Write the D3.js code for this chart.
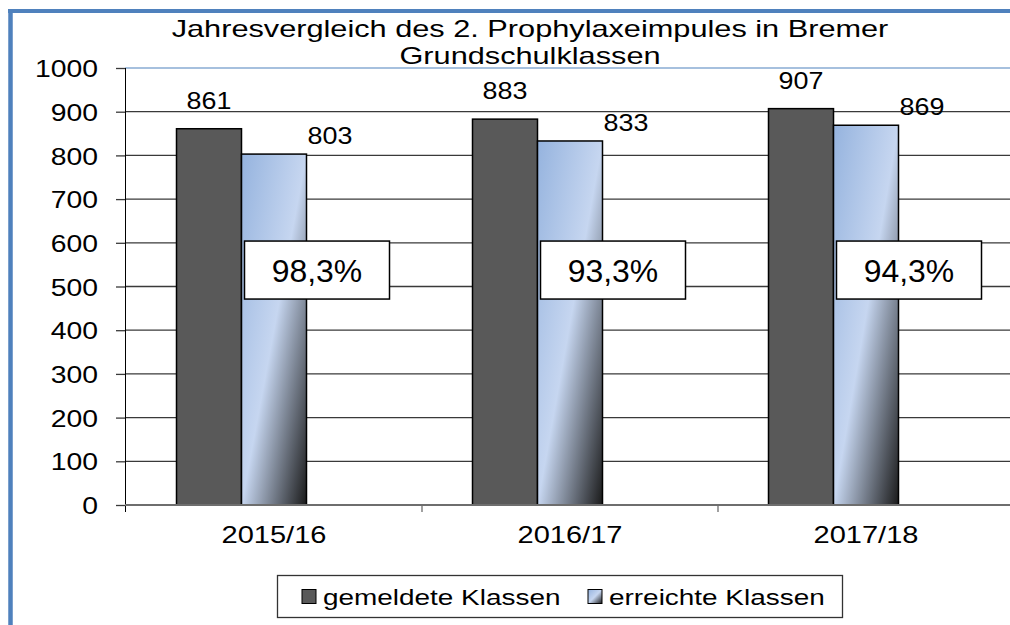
<!DOCTYPE html>
<html lang="de">
<head>
  <meta charset="UTF-8">
  <title>Jahresvergleich des 2. Prophylaxeimpules</title>
  <script src="https://d3js.org/d3.v7.min.js"></script>
  <style>
    body {
      margin: 0;
      overflow: hidden;
      background-color: #fff;
    }

    svg {
      display: block;
      font-family: "Liberation Sans", Arial, sans-serif;
    }

    .grid line {
      stroke: #3a3a3a;
      stroke-width: 1.3;
    }

    .bar {
      stroke: #000;
      stroke-width: 1.5;
    }
  </style>
</head>
<body>
  <svg id="chart"></svg>

  <script>
    // Daten
    const categories = ["2015/16", "2016/17", "2017/18"];
    const gemeldet = [861, 883, 907];
    const erreicht = [803, 833, 869];
    const quoten = ["98,3%", "93,3%", "94,3%"];
    const seriesNames = ["gemeldete Klassen", "erreichte Klassen"];
    const yTicks = [0, 100, 200, 300, 400, 500, 600, 700, 800, 900, 1000];

    const width = 1010;
    const height = 625;
    const blau = "#4f81bd";

    const svg = d3.select("#chart")
      .attr("width", width)
      .attr("height", height);

    // the screenshot is stretched sideways, so texts get a horizontal scale
    function label(parent, x, y, str, size, sx, anchor) {
      return parent.append("text")
        .attr("transform", `translate(${x},${y}) scale(${sx},1)`)
        .attr("text-anchor", anchor || "middle")
        .style("font-size", size + "px")
        .attr("fill", "#000")
        .text(str);
    }

    const defs = svg.append("defs");
    const grad = defs.append("linearGradient")
      .attr("id", "blauVerlauf")
      .attr("x1", 0).attr("y1", 0)
      .attr("x2", 1).attr("y2", 1);
    grad.append("stop").attr("offset", 0).attr("stop-color", "#95b3de");
    grad.append("stop").attr("offset", 0.5).attr("stop-color", "#c6d6f0");
    grad.append("stop").attr("offset", 1).attr("stop-color", "#1a1a1a");

    // Rahmen (blau, links und oben)
    svg.append("line")
      .attr("x1", 10.5).attr("y1", 9).attr("x2", 10.5).attr("y2", height)
      .attr("stroke", blau).attr("stroke-width", 4.5);
    svg.append("line")
      .attr("x1", 8).attr("y1", 11).attr("x2", width).attr("y2", 11)
      .attr("stroke", blau).attr("stroke-width", 4);

    // Skalen
    const x = d3.scaleBand()
      .domain(categories)
      .range([126, 1014])
      .padding(0);

    // third slot stays empty (room for the label box)
    const xSub = d3.scaleBand()
      .domain(["gemeldet", "erreicht", "leer"])
      .range([0, x.bandwidth()])
      .paddingInner(0)
      .paddingOuter(0.777);

    const y = d3.scaleLinear()
      .domain([0, 1000])
      .range([505, 68]);

    // Gitterlinien
    svg.append("g")
      .attr("class", "grid")
      .selectAll("line")
      .data(yTicks.filter(d => d < 1000))
      .join("line")
      .attr("x1", 125).attr("x2", width)
      .attr("y1", d => y(d)).attr("y2", d => y(d));

    svg.append("line")
      .attr("x1", 125).attr("x2", width)
      .attr("y1", y(1000)).attr("y2", y(1000))
      .attr("stroke", blau).attr("stroke-width", 1.2);

    // Balken
    const groups = svg.append("g")
      .selectAll("g")
      .data(categories)
      .join("g")
      .attr("transform", d => `translate(${x(d)},0)`);

    groups.append("rect")
      .attr("class", "bar")
      .attr("x", xSub("gemeldet"))
      .attr("width", xSub.bandwidth())
      .attr("y", (d, i) => y(gemeldet[i]))
      .attr("height", (d, i) => y(0) - y(gemeldet[i]))
      .attr("fill", "#595959");

    groups.append("rect")
      .attr("class", "bar")
      .attr("x", xSub("erreicht"))
      .attr("width", xSub.bandwidth())
      .attr("y", (d, i) => y(erreicht[i]))
      .attr("height", (d, i) => y(0) - y(erreicht[i]))
      .attr("fill", "url(#blauVerlauf)");

    // Datenbeschriftungen
    groups.each(function (d, i) {
      const g = d3.select(this);
      label(g, xSub("gemeldet") + xSub.bandwidth() / 2, y(gemeldet[i]) - 20,
        gemeldet[i], 24, 1.12, "middle");
      label(g, xSub("erreicht") + xSub.bandwidth() + 1, y(erreicht[i]) - 10,
        erreicht[i], 24, 1.12, "start");

      // Quote im Kasten
      const bx = xSub("erreicht") + 3;
      const by = y(604);
      g.append("rect")
        .attr("x", bx).attr("y", by)
        .attr("width", 145).attr("height", 58)
        .attr("fill", "#fff")
        .attr("stroke", "#000")
        .attr("stroke-width", 1.5);
      label(g, bx + 72.5, by + 41, quoten[i], 31, 1.03, "middle");
    });

    // Y-Achse
    const yAxis = svg.append("g")
      .attr("transform", "translate(125,0)")
      .call(d3.axisLeft(y).tickValues(yTicks).tickFormat(d3.format("d"))
        .tickSize(9).tickPadding(18));
    yAxis.select(".domain").remove();
    yAxis.selectAll(".tick line").attr("stroke", "#3a3a3a").attr("stroke-width", 1.3);
    yAxis.selectAll(".tick text")
      .attr("fill", "#000")
      .style("font-size", "24px")
      .attr("font-family", null)
      .attr("dy", null)
      .attr("y", 8.6)
      .attr("x", -27 / 1.18)
      .attr("transform", "scale(1.18,1)");
    svg.append("line")
      .attr("x1", 125.5).attr("x2", 125.5)
      .attr("y1", y(1000)).attr("y2", y(0) + 7)
      .attr("stroke", "#000").attr("stroke-width", 1);

    // X-Achse
    svg.append("line")
      .attr("x1", 125).attr("x2", width)
      .attr("y1", y(0)).attr("y2", y(0))
      .attr("stroke", "#6e6e6e").attr("stroke-width", 2);

    svg.append("g")
      .selectAll("line")
      .data(categories.slice(1))
      .join("line")
      .attr("x1", d => x(d)).attr("x2", d => x(d))
      .attr("y1", y(0)).attr("y2", y(0) + 7)
      .attr("stroke", "#6e6e6e").attr("stroke-width", 1.3);

    const xAxis = svg.append("g")
      .attr("transform", `translate(0,${y(0)})`)
      .call(d3.axisBottom(x).tickSize(0));
    xAxis.select(".domain").remove();
    xAxis.selectAll(".tick text")
      .attr("fill", "#000")
      .style("font-size", "24px")
      .attr("font-family", null)
      .attr("dy", null)
      .attr("y", 38)
      .attr("transform", "scale(1.21,1)");

    // Titel
    label(svg, 530, 37, "Jahresvergleich des 2. Prophylaxeimpules in Bremer", 24, 1.28);
    label(svg, 530, 64, "Grundschulklassen", 24, 1.28);

    // Legende
    const legend = svg.append("g");
    legend.append("rect")
      .attr("x", 277.5).attr("y", 575.5)
      .attr("width", 565).attr("height", 42)
      .attr("fill", "#fff")
      .attr("stroke", "#333")
      .attr("stroke-width", 1.3);

    const legendX = [302, 588];
    const legendFill = ["#595959", "url(#blauVerlauf)"];
    seriesNames.forEach((name, i) => {
      legend.append("rect")
        .attr("x", legendX[i]).attr("y", 589.5)
        .attr("width", 14).attr("height", 14)
        .attr("fill", legendFill[i])
        .attr("stroke", "#000")
        .attr("stroke-width", 1);
      label(legend, legendX[i] + 21, 605, name, 22, 1.27, "start");
    });
  </script>
</body>
</html>
